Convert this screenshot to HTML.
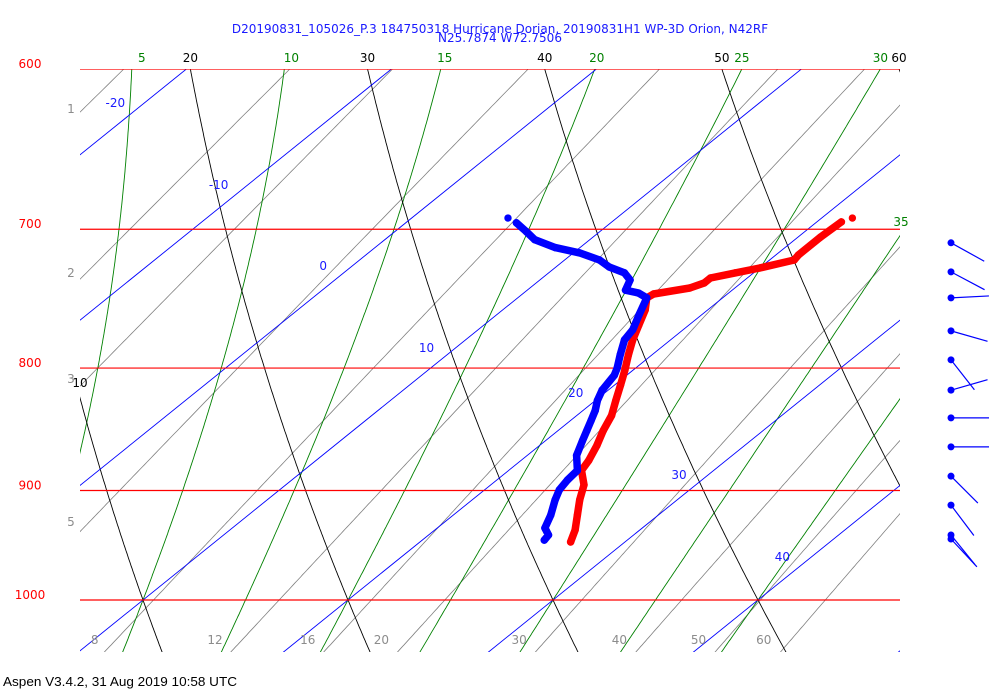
<!DOCTYPE html>
<html><head><meta charset="utf-8"><style>
html,body{margin:0;padding:0;background:#fff;}
svg{display:block;font-family:"DejaVu Sans","Liberation Sans",sans-serif;}
</style></head><body>
<svg id="chart" width="1000" height="700" viewBox="0 0 1000 700" xmlns="http://www.w3.org/2000/svg">
<defs><clipPath id="plotclip"><rect x="80" y="69" width="820" height="583"/></clipPath></defs>
<rect x="0" y="0" width="1000" height="700" fill="#fff"/>
<text x="500" y="33" text-anchor="middle" font-size="12" fill="#1a1aff">D20190831_105026_P.3 184750318 Hurricane Dorian, 20190831H1 WP-3D Orion, N42RF</text>
<text x="500" y="42" text-anchor="middle" font-size="12" fill="#1a1aff">N25.7874 W72.7506</text>
<g id="grid" clip-path="url(#plotclip)"></g>
<g id="labels"></g>
<g id="profiles"></g>
<g id="barbs"></g>
<text x="3" y="686" font-size="13" fill="#000" textLength="234" lengthAdjust="spacingAndGlyphs" font-family="Liberation Sans Narrow, Liberation Sans, sans-serif">Aspen V3.4.2, 31 Aug 2019  10:58 UTC</text>
</svg>
<script>
// ---- data ----
const isobars = [600, 700, 800, 900, 1000];
const isotherms = [-40, -30, -20, -10, 0, 10, 20, 30, 40, 50, 60];
const isothermLabels = [-20, -10, 0, 10, 20, 30, 40];
const isothermLabelY = [107, 189, 270, 352, 397, 479, 561];
const dryAdiabats = [0, 10, 20, 30, 40, 50, 60, 70];
const moistAdiabats = [0, 5, 10, 15, 20, 25, 30, 35, 40];
const mixingRatios = [1, 2, 3, 5, 8, 12, 16, 20, 30, 40, 50, 60];
const mixingLabels = [8, 12, 16, 20, 30, 40, 50, 60];
const altLabels = ["1", "2", "3", "5"];
const altLabelY = [113, 277, 383, 526];

const tempP = [692.5,695.1,705.4,717.5,721.0,726.6,730.0,733.6,737.1,740.7,745.0,747.8,756.5,767.5,778.6,789.9,801.6,813.3,825.4,837.4,849.5,862.0,874.3,882.8,895.2,908.2,921.5,935.0,945.7];
const tempT = [21.5,21.2,21.1,21.1,21.2,20.0,19.1,18.2,18.2,17.8,16.4,16.3,16.95,17.55,18.15,18.85,19.6,20.3,21.0,21.7,22.2,22.8,23.3,23.55,24.55,25.25,26.05,26.85,27.35];
const dewP = [692.5,695.7,701.5,707.0,712.5,716.1,721.0,725.9,730.0,735.0,742.3,744.3,747.8,760.1,771.2,778.6,789.9,800.0,805.6,817.2,825.4,833.4,841.4,849.5,857.9,870.1,882.8,891.0,899.5,908.2,921.5,933.1,939.4,944.0];
const dewT = [4.7,5.4,6.4,7.3,8.8,10.3,11.7,12.6,13.7,14.4,14.8,15.6,16.3,16.95,17.55,17.75,18.45,19.1,19.4,19.7,20.1,20.6,21.0,21.4,21.8,22.4,23.35,23.45,23.65,24.05,24.75,25.25,25.85,25.95];

const windP = [709.2,729.3,747.8,771.9,793.7,817.2,839.3,863.0,887.7,912.8,939.4,943.0];
const windDir = [119,118,87,106,142,74,90,90,135,143,141,137];

// ---- axes ----
const K = 1039.5, SK = 1.24, PX = 20.5;
function yOf(p){ return 600 - K*Math.log(1000/p); }
function xOf(T,p){ return 143 + (T-10)*PX + (600 - yOf(p))*SK; }
const NS = "http://www.w3.org/2000/svg";
function mk(tag, attrs, parent){ const e=document.createElementNS(NS,tag); for(const k in attrs) e.setAttribute(k,attrs[k]); parent.appendChild(e); return e; }
const grid = document.getElementById('grid'), labels = document.getElementById('labels');
const prof = document.getElementById('profiles'), barbs = document.getElementById('barbs');
const pTop = 560, pBot = 1060;
function pathFor(fn){ let d=""; for(let p=pTop; p<=pBot; p+=2){ d += (d?"L":"M") + xOf(fn(p),p).toFixed(1)+","+yOf(p).toFixed(1); } return d; }

// mixing ratio lines
mixingRatios.forEach(w=>{
  const el = mk('path',{d:pathFor(p=>{ const e=w*p/(622+w); const l=Math.log(e/6.112); return 243.5*l/(17.67-l); }),fill:'none',stroke:'#808080','stroke-width':0.8},grid);
  
  
});
// moist adiabats
function moistT(thw){
  const pts={}; const Rd=287.04,Cp=1005.7,L=2.501e6,eps=0.622;
  function dTdp(T,p){ const Tc=T-273.15; const es=6.112*Math.exp(17.67*Tc/(Tc+243.5)); const rs=eps*es/(p-es); return (1/p)*(Rd*T+L*rs)/(Cp+L*L*rs*eps/(Rd*T*T)); }
  let T=thw+273.15; pts[1000]=T;
  for(let p=1000;p>pTop;p-=1){ T -= dTdp(T,p); pts[p-1]=T; }
  T=thw+273.15; for(let p=1000;p<pBot;p+=1){ T += dTdp(T,p); pts[p+1]=T; }
  return p=>pts[Math.round(p)]-273.15;
}
moistAdiabats.forEach(t=>{
  const el = mk('path',{d:pathFor(moistT(t)),fill:'none',stroke:'#008000','stroke-width':0.9},grid);
  
  
});
// dry adiabats
dryAdiabats.forEach(th=>{
  const el = mk('path',{d:pathFor(p=>(th+273.15)*Math.pow(p/1000,0.2857)-273.15),fill:'none',stroke:'#000','stroke-width':0.9},grid);
  
  
});
// isotherms
isotherms.forEach(T=>{
  const el = mk('line',{x1:xOf(T,pBot),y1:yOf(pBot),x2:xOf(T,pTop),y2:yOf(pTop),stroke:'#0000ff','stroke-width':0.9},grid);
  
  
});
// isobars
isobars.forEach(p=>{
  const el = mk('line',{x1:80,y1:yOf(p),x2:900,y2:yOf(p),stroke:'#ff0000','stroke-width':1.2},grid);
  
  
  const t = mk('text',{x:30,y:yOf(p)-1,'text-anchor':'middle','font-size':12,fill:'#ff0000'},labels);
  t.textContent = p;
  
  
});
// labels
function addText(x,y,txt,col,name,anchor){
  const t = mk('text',{x:x,y:y,'text-anchor':anchor||'middle','font-size':12,fill:col},labels);
  t.textContent = txt;
  
  
}
isothermLabels.forEach((T,i)=>{ const y=isothermLabelY[i]; const p=1000*Math.exp(-(600-y)/K); addText(xOf(T,p)-24,y,T,'#1a1aff','isotherm-label'); });
dryAdiabats.forEach(th=>{ const x=xOf((th+273.15)*Math.pow(0.6,0.2857)-273.15,600); if(x>=85&&x<=905) addText(x,62,th,'#000','dry-adiabat-label'); });
addText(80,387,'10','#000','dry-adiabat-label');
const moistLabelShift = {5:10, 10:7, 15:4, 20:2, 25:0, 30:0};
moistAdiabats.forEach(t=>{ const x=xOf(moistT(t)(600),600); if(t<=30&&x>=85&&x<=905) addText(x+(moistLabelShift[t]||0),62,t,'#008000','moist-adiabat-label'); });
addText(901,226,'35','#008000','moist-adiabat-label');
const pLab = 1000*Math.exp(40/K);
const mixLabelShift = {8:6, 12:0, 16:0, 20:0, 30:0, 40:0, 50:0, 60:0};
mixingLabels.forEach(w=>{ const e=w*pLab/(622+w); const l=Math.log(e/6.112); const T=243.5*l/(17.67-l); addText(xOf(T,pLab)-27+mixLabelShift[w],644,w,'#8c8c8c','mixing-ratio-label'); });
altLabels.forEach((a,i)=>addText(71,altLabelY[i],a,'#8c8c8c','altitude-label'));

// profiles
function drawProfile(P,T,col,name){
  const g = mk('g',{},prof);
  
  
  let d=""; for(let i=1;i<P.length;i++){ d+=(d?"L":"M")+xOf(T[i],P[i]).toFixed(1)+","+yOf(P[i]).toFixed(1); }
  const pl = mk('path',{d:d,fill:'none',stroke:col,'stroke-width':7.5,'stroke-linejoin':'round','stroke-linecap':'round'},g);
  
  
  for(let i=0;i<P.length;i++){
    const c = mk('circle',{cx:xOf(T[i],P[i]),cy:yOf(P[i]),r:3.7,fill:col},g);
    
    
  }
}
drawProfile(tempP,tempT,'#ff0000','temperature-profile');
drawProfile(dewP,dewT,'#0000ff','dewpoint-profile');

// wind barbs
windP.forEach((p,i)=>{
  const y=yOf(p), x=951, a=windDir[i]*Math.PI/180, L=38;
  const dx=Math.sin(a)*L, dy=-Math.cos(a)*L;
  const ln = mk('line',{x1:x,y1:y,x2:x+dx,y2:y+dy,stroke:'#0000ff','stroke-width':1.2},barbs);
  
  
  const c = mk('circle',{cx:x,cy:y,r:3.5,fill:'#0000ff'},barbs);
  
  
});
</script>
</body></html>
